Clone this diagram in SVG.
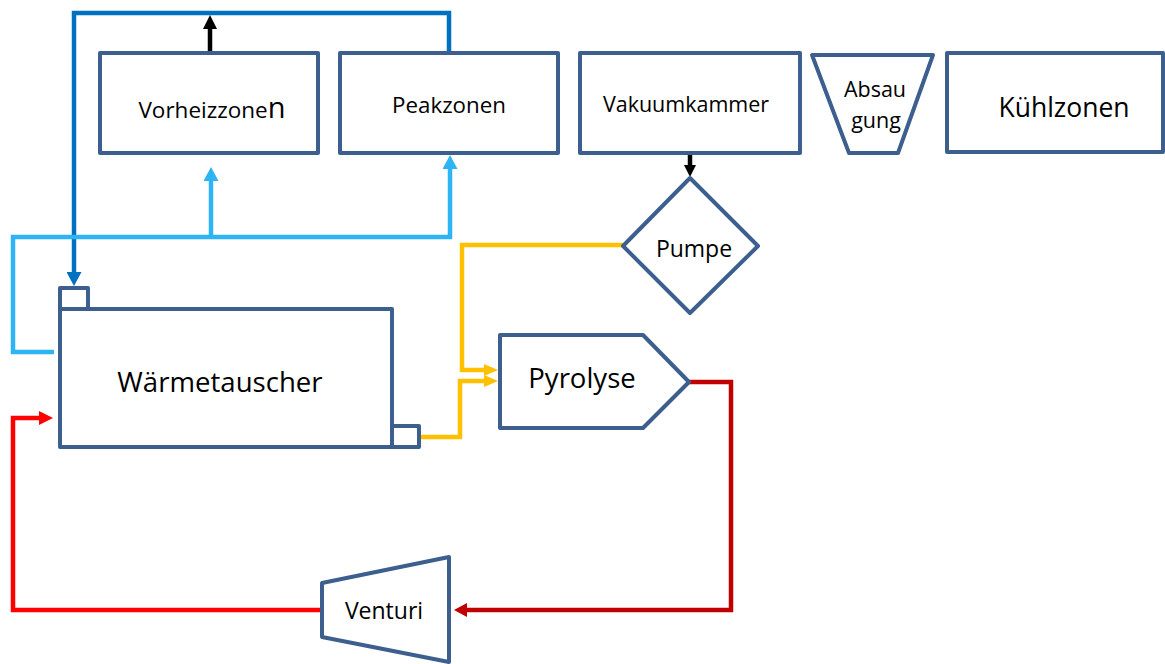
<svg xmlns="http://www.w3.org/2000/svg" width="1165" height="664" viewBox="0 0 1165 664">
<style>
.box{fill:#fff;stroke:#3C5F8E;stroke-width:4;stroke-linejoin:round}
.t{font-family:"Open Sans","Liberation Sans",sans-serif;fill:#000;text-anchor:middle}
.c{fill:none;stroke-width:4.5;stroke-linejoin:miter}
</style>
<defs>
<marker id="aBlack" viewBox="0 0 14 14" refX="1" refY="7" markerWidth="14" markerHeight="14" markerUnits="userSpaceOnUse" orient="auto"><path d="M0,0 L14,7 L0,14 z" fill="#000"/></marker>
<marker id="aBlackS" viewBox="0 0 12 12" refX="1" refY="6" markerWidth="12" markerHeight="12" markerUnits="userSpaceOnUse" orient="auto"><path d="M0,0 L12,6 L0,12 z" fill="#000"/></marker>
<marker id="aDBlue" viewBox="0 0 14 15" refX="1" refY="7.5" markerWidth="14" markerHeight="15" markerUnits="userSpaceOnUse" orient="auto"><path d="M0,0 L14,7.5 L0,15 z" fill="#0070C0"/></marker>
<marker id="aLBlue" viewBox="0 0 14 15" refX="1" refY="7.5" markerWidth="14" markerHeight="15" markerUnits="userSpaceOnUse" orient="auto"><path d="M0,0 L14,7.5 L0,15 z" fill="#2CB4F4"/></marker>
<marker id="aYellow" viewBox="0 0 14 12" refX="1" refY="6" markerWidth="14" markerHeight="12" markerUnits="userSpaceOnUse" orient="auto"><path d="M0,0 L14,6 L0,12 z" fill="#FFC000"/></marker>
<marker id="aRed" viewBox="0 0 14 14" refX="1" refY="7" markerWidth="14" markerHeight="14" markerUnits="userSpaceOnUse" orient="auto"><path d="M0,0 L14,7 L0,14 z" fill="#FF0000"/></marker>
<marker id="aDRed" viewBox="0 0 13 14" refX="1" refY="7" markerWidth="13" markerHeight="14" markerUnits="userSpaceOnUse" orient="auto"><path d="M0,0 L13,7 L0,14 z" fill="#C00000"/></marker>
</defs>

<g id="connectors">
<path class="c" stroke="#0070C0" d="M449,51 V13 H74 V273" marker-end="url(#aDBlue)"/>
<path class="c" stroke="#000" d="M210,51 V28" marker-end="url(#aBlack)"/>
<path class="c" stroke="#2CB4F4" d="M54,352 H13 V237 H450 V168" marker-end="url(#aLBlue)"/>
<path class="c" stroke="#2CB4F4" d="M211,237 V180" marker-end="url(#aLBlue)"/>
<path class="c" stroke="#000" d="M690,155 V166" marker-end="url(#aBlackS)"/>
<path class="c" stroke="#FFC000" d="M623,245 H462 V370 H485" marker-end="url(#aYellow)"/>
<path class="c" stroke="#FFC000" d="M420,437 H460 V381 H485" marker-end="url(#aYellow)"/>
<path class="c" stroke="#C00000" d="M689,382 H731 V610 H466" marker-end="url(#aDRed)"/>
<path class="c" stroke="#FF0000" d="M322,610 H13 V418 H40" marker-end="url(#aRed)"/>
</g>

<g id="vorheizzonen">
<rect class="box" x="100" y="53" width="218" height="100"/>
<text class="t" x="212" y="118" font-size="22.5">Vorheizzone<tspan font-size="29">n</tspan></text>
</g>
<g id="peakzonen">
<rect class="box" x="340" y="53" width="218" height="100"/>
<text class="t" x="449" y="113" font-size="22.3">Peakzonen</text>
</g>
<g id="vakuumkammer">
<rect class="box" x="580" y="53" width="220" height="100"/>
<text class="t" x="686" y="112" font-size="21.5">Vakuumkammer</text>
</g>
<g id="absaugung">
<polygon class="box" points="812,55 933,55 898,153 849,153"/>
<text class="t" x="875" y="97" font-size="21.5">Absau</text>
<text class="t" x="876" y="128" font-size="21.5">gung</text>
</g>
<g id="kuehlzonen">
<rect class="box" x="947" y="53" width="216" height="99"/>
<text class="t" x="1064" y="117" font-size="26.5">Kühlzonen</text>
</g>
<g id="pumpe">
<polygon class="box" points="690,178 758,246 690,313 623,246"/>
<text class="t" x="694" y="257" font-size="23">Pumpe</text>
</g>
<g id="waermetauscher">
<rect class="box" x="60" y="288" width="28" height="21"/>
<rect class="box" x="60" y="309" width="332" height="138"/>
<rect class="box" x="392" y="426" width="27" height="21"/>
<text class="t" x="220" y="392" font-size="27.6">Wärmetauscher</text>
</g>
<g id="pyrolyse">
<polygon class="box" points="500,335 643,335 689,382 643,428 500,428"/>
<text class="t" x="582" y="388" font-size="27.5">Pyrolyse</text>
</g>
<g id="venturi">
<polygon class="box" points="322,583 449,557 449,662 322,637"/>
<text class="t" x="384" y="619" font-size="23">Venturi</text>
</g>
</svg>
